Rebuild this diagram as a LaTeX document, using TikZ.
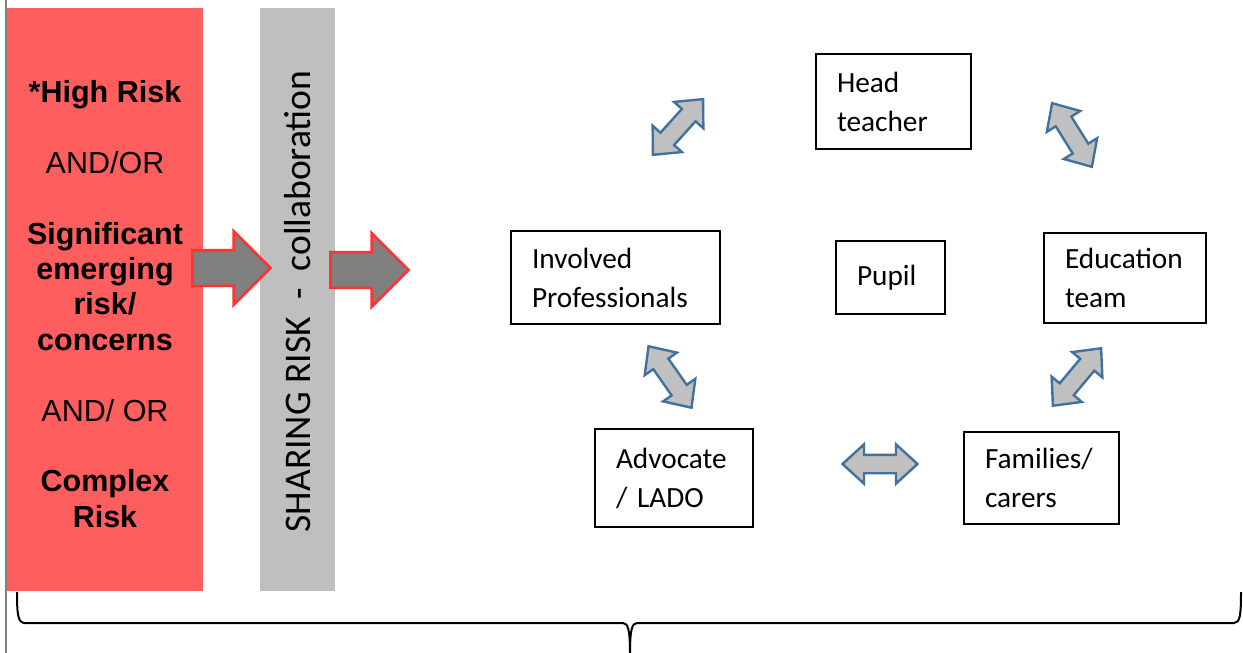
\documentclass[tikz,border=0pt]{standalone}
\usepackage{fontspec}
\usetikzlibrary{shapes.arrows}
\newfontfamily\calfont{Carlito}
\newfontfamily\arfont{Liberation Sans}
\definecolor{riskred}{RGB}{255,94,94}
\definecolor{sharegray}{RGB}{191,191,191}
\definecolor{flowgray}{RGB}{127,127,127}
\definecolor{flowred}{RGB}{255,51,51}
\definecolor{linkgray}{RGB}{192,192,192}
\definecolor{linkblue}{RGB}{65,113,156}
\tikzset{
  box/.style={draw, line width=1.1pt, align=left, inner xsep=21pt, inner ysep=0pt,
    font=\calfont\fontsize{29.3}{39}\selectfont},
  flow/.style={single arrow, draw=flowred, fill=flowgray, line width=2.6pt,
    inner sep=0pt, inner ysep=16.5pt, minimum height=78pt,
    single arrow head extend=19pt, single arrow tip angle=90, anchor=tail},
  link/.style={double arrow, draw=linkblue, fill=linkgray, line width=2.4pt,
    inner sep=0pt, inner ysep=8pt, minimum height=75pt,
    double arrow head extend=10.5pt, double arrow tip angle=85},
}
\begin{document}
\begin{tikzpicture}[x=1pt,y=-1pt]
    \useasboundingbox (0,0) rectangle (1243,653);
    \draw[gray, line width=1.5pt] (6,0) -- (6,653);
    % risk and sharing panels
    \node[fill=riskred, inner sep=0pt, minimum width=196pt, minimum height=583pt] (R) at (105,299.5) {};
    \node[fill=sharegray, inner sep=0pt, minimum width=75pt, minimum height=583pt] (G) at (297.5,299.5) {};
    \node[align=center, font=\arfont\fontsize{30.5}{35.4}\selectfont] (Rtxt) at ([shift={+(0,4.5)}]R.center)
        {\textbf{*High Risk}\\[35.4pt] AND/OR\\[35.4pt] \textbf{Significant}\\ \textbf{emerging}\\
         \textbf{risk/}\\ \textbf{concerns}\\[35.4pt] AND/ OR\\[35.4pt] \textbf{Complex}\\ \textbf{Risk}};
    \node[rotate=90, anchor=base, font=\calfont\fontsize{37.6}{45}\selectfont] (Gtxt) at ([shift={+(12.5,2)}]G.center)
        {SHARING RISK\ \ -\ \ collaboration};
    \node[flow] (A1) at ([shift={+(-12,-31.5)}]R.east) {};
    \node[flow] (A2) at ([shift={+(-6,-29.5)}]G.east) {};
    % people round the pupil
    \node[box, text width=113pt, minimum height=95pt] (HT) at (893.5,101.5) {Head\\teacher};
    \node[box, text width=167pt, minimum height=93pt] (IP) at (615.5,277.5) {Involved\\Professionals};
    \node[box, text width=67pt, minimum height=73pt] (PU) at (890.5,277.5) {Pupil};
    \node[box, text width=120pt, minimum height=90pt] (ET) at (1125,278) {Education\\team};
    \node[box, text width=116pt, minimum height=98pt] (AL) at (674,478) {Advocate\\/ LADO};
    \node[box, text width=113pt, minimum height=92pt] (FC) at (1041.5,478) {Families/\\carers};
    % two-way links
    \node[link, rotate=48] (D1) at (678,127) {};
    \node[link, rotate=-58] (D2) at (1072,135) {};
    \node[link, rotate=50] (D3) at (1077,377) {};
    \node[link, rotate=-55] (D4) at (670,377) {};
    \node[link] (D5) at (880,464) {};
    % brace under everything
    \draw[line width=2pt] (17,592) .. controls (17,615) and (18,623) .. (25,623) -- (623,623)
        .. controls (628,623) and (630,630) .. (630,653)
        .. controls (630,630) and (632,623) .. (637,623) -- (1234,623)
        .. controls (1240,623) and (1241,615) .. (1241,592);
\end{tikzpicture}
\end{document}
